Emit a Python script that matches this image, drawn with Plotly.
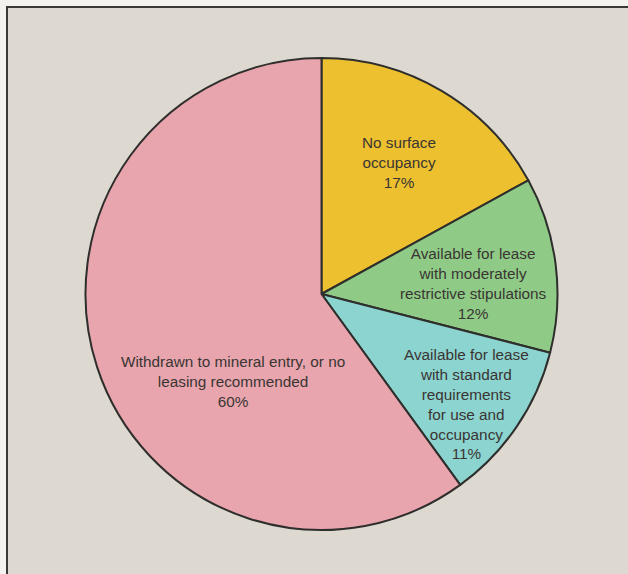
import plotly.graph_objects as go

# Land categories, clockwise from 12 o'clock
categories = [
    "No surface<br>occupancy",
    "Available for lease<br>with moderately<br>restrictive stipulations",
    "Available for lease<br>with standard<br>requirements<br>for use and<br>occupancy",
    "Withdrawn to mineral entry, or no<br>leasing recommended",
]
shares = [17, 12, 11, 60]

slice_colors = ["#ecc02f", "#8fcb86", "#8cd4cf", "#e8a5ae"]
# label anchor points (paper coordinates)
label_xy = [(0.6354, 0.7169), (0.7532, 0.5061), (0.7436, 0.2962), (0.3710, 0.3362)]

W, H = 628, 574
cx, cy, r = 321.5, 294.0, 236.0

fig = go.Figure(
    go.Pie(
        values=shares,
        labels=[c.replace("<br>", " ") for c in categories],
        sort=False,
        direction="clockwise",
        rotation=0,
        marker=dict(colors=slice_colors, line=dict(color="#2e2e2c", width=2)),
        textinfo="none",
        hoverinfo="none",
        showlegend=False,
        domain=dict(x=[(cx - r) / W, (cx + r) / W], y=[1 - (cy + r) / H, 1 - (cy - r) / H]),
    )
)

annotations = []
for cat, val, (ax, ay) in zip(categories, shares, label_xy):
    annotations.append(
        dict(
            x=ax, y=ay, xref="paper", yref="paper",
            text=f"{cat}<br>{val}%",
            showarrow=False, xanchor="center", yanchor="middle", align="center",
            font=dict(family="Liberation Sans, Arial, sans-serif", size=15.3, color="#3a3533"),
        )
    )

# beige panel with a rule along its top and left edges
shapes = [
    dict(type="rect", xref="paper", yref="paper", x0=7 / W, x1=1.05, y0=-0.05, y1=1 - 7 / H,
         fillcolor="#ddd9d1", line=dict(color="#3a3836", width=2), layer="below"),
]

fig.update_layout(
    width=W, height=H,
    margin=dict(l=0, r=0, t=0, b=0),
    paper_bgcolor="#f4f2ee",
    plot_bgcolor="#ddd9d1",
    annotations=annotations,
    shapes=shapes,
)

fig.write_html("out.html")
